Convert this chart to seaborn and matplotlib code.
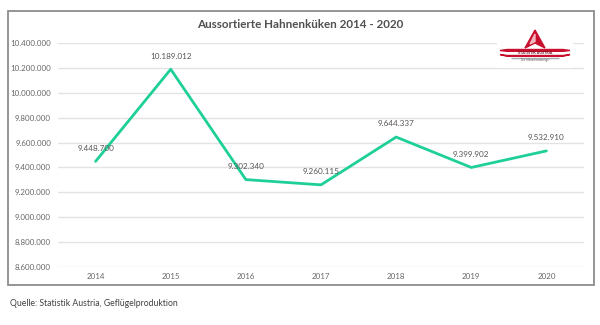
import matplotlib
matplotlib.use("Agg")
import matplotlib.pyplot as plt
from matplotlib.patches import Rectangle, Polygon
import seaborn as sns
import pandas as pd

# Sorted-out male chicks per year
years = ["2014", "2015", "2016", "2017", "2018", "2019", "2020"]
chicks = [9448700, 10189012, 9302340, 9260115, 9644337, 9399902, 9532910]
value_labels = ["9.448.700", "10.189.012", "9.302.340", "9.260.115",
                "9.644.337", "9.399.902", "9.532.910"]
y_ticks = [8600000, 8800000, 9000000, 9200000, 9400000, 9600000,
           9800000, 10000000, 10200000, 10400000]

title = "Aussortierte Hahnenküken 2014 - 2020"
source = "Quelle: Statistik Austria, Geflügelproduktion"

df = pd.DataFrame({"Jahr": years, "Anzahl": chicks})

sns.set_theme(style="white")
plt.rcParams["font.family"] = ["Lato", "DejaVu Sans"]

W, H = 600, 325
fig = plt.figure(figsize=(W / 100, H / 100), dpi=100)
fig.patch.set_facecolor("white")

# Outer frame around the chart
fig.patches.append(Rectangle((8 / W, 1 - 285 / H), 586 / W, 274 / H,
                             transform=fig.transFigure, fill=False,
                             edgecolor="#8c8c8c", linewidth=1.3))

ax = fig.add_axes([58 / W, 1 - 267 / H, 526 / W, 224 / H])
sns.lineplot(data=df, x="Jahr", y="Anzahl", ax=ax, color="#1ecf98",
             linewidth=2.0, sort=False)

ax.set_ylim(8600000, 10400000)
ax.set_xlim(-0.5, len(years) - 0.5)
ax.set_yticks(y_ticks)
ax.set_yticklabels([f"{v:,}".replace(",", ".") for v in y_ticks])
ax.yaxis.grid(True, color="#e3e3e3", linewidth=1.0)
ax.set_axisbelow(True)
for s in ax.spines.values():
    s.set_visible(False)
ax.tick_params(axis="both", length=0, labelsize=5.7, labelcolor="#666666")
ax.tick_params(axis="y", pad=5)
ax.tick_params(axis="x", pad=4)
ax.set_xlabel("")
ax.set_ylabel("")

for i, (v, lab) in enumerate(zip(chicks, value_labels)):
    ax.annotate(lab, (i, v), xytext=(0, 7), textcoords="offset points",
                ha="center", va="bottom", fontsize=5.9, color="#555555")

fig.text(0.5, 1 - 25 / H, title, ha="center", va="center",
         fontsize=8.4, fontweight="bold", color="#505050")
fig.text(10 / W, 1 - 303 / H, source, ha="left", va="center",
         fontsize=6.2, color="#404040")

# Statistik Austria emblem on a white card
lx = fig.add_axes([497 / W, 1 - 68 / H, 76 / W, 40 / H])
lx.set_xlim(0, 76)
lx.set_ylim(40, 0)
lx.set_facecolor("white")
for s in lx.spines.values():
    s.set_visible(False)
lx.set_xticks([])
lx.set_yticks([])
red = "#c8102e"
lx.add_patch(Polygon([[38, 2], [28, 20], [38, 15], [48, 20]],
                     closed=True, color=red))
lx.add_patch(Polygon([[38, 6], [33, 16], [38, 13.5]],
                     closed=True, color="#f2b8c0"))
lx.add_patch(Polygon([[3, 22.5], [10, 21.5], [66, 21.5], [73, 22.5],
                      [66, 23.3], [10, 23.3]], closed=True, color=red))
lx.add_patch(Polygon([[3, 26.5], [10, 27.5], [66, 27.5], [73, 26.5],
                      [66, 28.3], [10, 28.3]], closed=True, color=red))
lx.text(38, 25.3, "STATISTIK AUSTRIA", ha="center", va="center",
        fontsize=2.7, color="#6d0f1c", fontweight="bold")
lx.add_patch(Rectangle((14, 29.5), 48, 0.4, color="#aaaaaa"))
lx.text(38, 32, "Die Informationsmanager", ha="center", va="center",
        fontsize=1.9, color="#555555")

fig.savefig("out.png", dpi=100, facecolor="white")
